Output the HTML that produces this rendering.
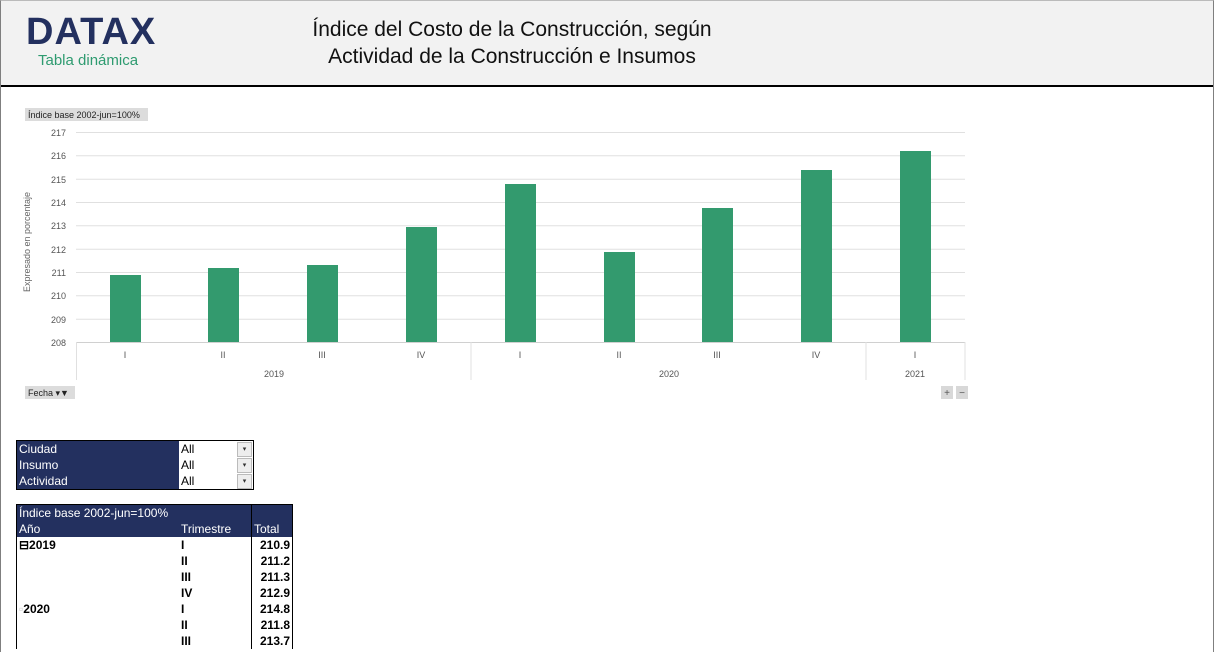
<!DOCTYPE html>
<html><head><meta charset="utf-8"><style>
body{margin:0;width:1214px;height:651px;overflow:hidden;background:#fff;font-family:"Liberation Sans",sans-serif;position:relative}
.frame{position:absolute;left:0;top:0;width:1212px;height:651px;border-left:1px solid #7f7f7f;border-right:1px solid #7f7f7f;border-top:1px solid #bbb}
.hdr{position:absolute;left:1px;top:1px;width:1212px;height:84px;background:#f2f2f2;border-bottom:2px solid #000}
.logo{position:absolute;left:25px;top:10px;font-size:38px;font-weight:bold;color:#23305f;letter-spacing:1px}
.sub{position:absolute;left:37px;top:51px;font-size:15px;color:#2e9b70}
.title{position:absolute;left:266px;width:490px;top:15px;text-align:center;font-size:21px;line-height:27px;color:#111}
table{border-collapse:collapse;font-size:12px;position:absolute}
.f{left:16px;top:440px;border:1px solid #000}
.f td{height:16px;padding:0 2px;line-height:16px}
.n{background:#23305f;color:#fff;width:158px}
.v{background:#fff;width:70px;position:relative}
.dd{position:absolute;right:1px;top:1px;width:13px;height:13px;background:#eee;border:1px solid #bbb;font-size:7px;text-align:center;line-height:13px;color:#333}
.p{left:16px;top:504px}
.p td{height:16px;line-height:16px;padding:0 2px}
.h{background:#23305f;color:#fff}
</style></head><body>
<div class="frame"></div>
<div class="hdr">
<div class="logo">DATAX</div>
<div class="sub">Tabla dinámica</div>
<div class="title">Índice del Costo de la Construcción, según<br>Actividad de la Construcción e Insumos</div>
</div>
<svg style="position:absolute;left:0;top:0" width="1214" height="420" font-family="Liberation Sans,sans-serif">
<rect x="25" y="108" width="123" height="13" fill="#dcdcdc"/>
<text x="28" y="118" font-size="9" fill="#222">Índice base 2002-jun=100%</text>
<text transform="translate(30,242) rotate(-90)" text-anchor="middle" font-size="9" fill="#666">Expresado en porcentaje</text>
<g stroke="#e0e0e0" stroke-width="1">
<line x1="76" x2="965" y1="132.5" y2="132.5"/><line x1="76" x2="965" y1="155.8" y2="155.8"/><line x1="76" x2="965" y1="179.2" y2="179.2"/><line x1="76" x2="965" y1="202.5" y2="202.5"/><line x1="76" x2="965" y1="225.8" y2="225.8"/><line x1="76" x2="965" y1="249.2" y2="249.2"/><line x1="76" x2="965" y1="272.5" y2="272.5"/><line x1="76" x2="965" y1="295.8" y2="295.8"/><line x1="76" x2="965" y1="319.2" y2="319.2"/>
<line x1="76" x2="965" y1="342.5" y2="342.5" stroke="#d0d0d0"/>
<line x1="76.5" x2="76.5" y1="342" y2="380"/><line x1="471" x2="471" y1="342" y2="380"/><line x1="866" x2="866" y1="342" y2="380"/><line x1="965" x2="965" y1="342" y2="380"/>
</g>
<g font-size="9" fill="#555" text-anchor="end">
<text x="66" y="136">217</text><text x="66" y="159">216</text><text x="66" y="183">215</text><text x="66" y="206">214</text><text x="66" y="229">213</text><text x="66" y="253">212</text><text x="66" y="276">211</text><text x="66" y="299">210</text><text x="66" y="323">209</text><text x="66" y="346">208</text>
</g>
<g fill="#339a6e">
<rect x="110" y="275" width="31" height="67"/>
<rect x="208" y="268" width="31" height="74"/>
<rect x="307" y="265" width="31" height="77"/>
<rect x="406" y="227" width="31" height="115"/>
<rect x="505" y="184" width="31" height="158"/>
<rect x="604" y="252" width="31" height="90"/>
<rect x="702" y="208" width="31" height="134"/>
<rect x="801" y="170" width="31" height="172"/>
<rect x="900" y="151" width="31" height="191"/>
</g>
<g font-size="9" fill="#555" text-anchor="middle">
<text x="125" y="358">I</text><text x="223" y="358">II</text><text x="322" y="358">III</text><text x="421" y="358">IV</text><text x="520" y="358">I</text><text x="619" y="358">II</text><text x="717" y="358">III</text><text x="816" y="358">IV</text><text x="915" y="358">I</text>
<text x="274" y="377">2019</text><text x="669" y="377">2020</text><text x="915" y="377">2021</text>
</g>
<rect x="25" y="386" width="50" height="13" fill="#dcdcdc"/>
<text x="28" y="396" font-size="9" fill="#222">Fecha ▾▼</text>
<rect x="941" y="386" width="12" height="13" fill="#d8d8d8"/><text x="947" y="396" font-size="10" text-anchor="middle" fill="#555">+</text>
<rect x="956" y="386" width="12" height="13" fill="#d8d8d8"/><text x="962" y="396" font-size="10" text-anchor="middle" fill="#555">−</text>
</svg>
<table class="f">
<tr><td class="n">Ciudad</td><td class="v">All<span class="dd">▾</span></td></tr>
<tr><td class="n">Insumo</td><td class="v">All<span class="dd">▾</span></td></tr>
<tr><td class="n">Actividad</td><td class="v">All<span class="dd">▾</span></td></tr>
</table>
<table class="p">
<tr><td class="h" colspan="2" style="border-left:1px solid #000;border-top:1px solid #000">Índice base 2002-jun=100%</td><td class="h" style="border:1px solid #000;border-bottom:none"></td></tr>
<tr><td class="h" style="width:158px;border-left:1px solid #000">Año</td><td class="h" style="width:68px">Trimestre</td><td class="h" style="width:36px;border-left:1px solid #000;border-right:1px solid #000">Total</td></tr>
<tr><td style="font-weight:bold;border-left:1px solid #000">⊟2019</td><td style="font-weight:bold">I</td><td style="text-align:right;font-weight:bold;border-left:1px solid #000;border-right:1px solid #000">210.9</td></tr>
<tr><td style="border-left:1px solid #000"></td><td style="font-weight:bold">II</td><td style="text-align:right;font-weight:bold;border-left:1px solid #000;border-right:1px solid #000">211.2</td></tr>
<tr><td style="border-left:1px solid #000"></td><td style="font-weight:bold">III</td><td style="text-align:right;font-weight:bold;border-left:1px solid #000;border-right:1px solid #000">211.3</td></tr>
<tr><td style="border-left:1px solid #000"></td><td style="font-weight:bold">IV</td><td style="text-align:right;font-weight:bold;border-left:1px solid #000;border-right:1px solid #000">212.9</td></tr>
<tr><td style="font-weight:bold;border-left:1px solid #000"><span style="color:#ccc">▫</span>2020</td><td style="font-weight:bold">I</td><td style="text-align:right;font-weight:bold;border-left:1px solid #000;border-right:1px solid #000">214.8</td></tr>
<tr><td style="border-left:1px solid #000"></td><td style="font-weight:bold">II</td><td style="text-align:right;font-weight:bold;border-left:1px solid #000;border-right:1px solid #000">211.8</td></tr>
<tr><td style="border-left:1px solid #000"></td><td style="font-weight:bold">III</td><td style="text-align:right;font-weight:bold;border-left:1px solid #000;border-right:1px solid #000">213.7</td></tr>
</table>
</body></html>
